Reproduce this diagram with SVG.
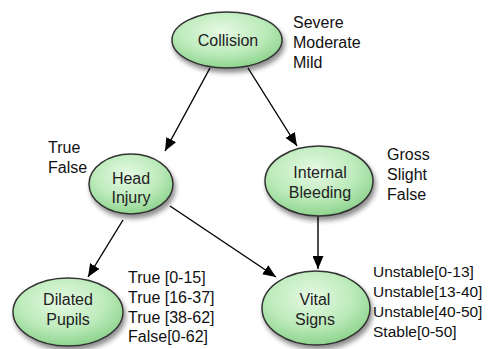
<svg xmlns="http://www.w3.org/2000/svg" width="491" height="349" viewBox="0 0 491 349">
<defs>
<radialGradient id="g" cx="0.45" cy="0.35" r="0.65">
<stop offset="0" stop-color="#e6f9e4"/>
<stop offset="0.6" stop-color="#bdebbb"/>
<stop offset="1" stop-color="#8fd48f"/>
</radialGradient>
<filter id="sh" x="-20%" y="-20%" width="150%" height="160%">
<feGaussianBlur in="SourceAlpha" stdDeviation="2.5"/>
<feOffset dx="2" dy="4" result="b"/>
<feComponentTransfer><feFuncA type="linear" slope="0.45"/></feComponentTransfer>
<feMerge><feMergeNode/><feMergeNode in="SourceGraphic"/></feMerge>
</filter>
<marker id="ah" viewBox="0 0 13 11" refX="13" refY="5.5" markerWidth="13" markerHeight="11" markerUnits="userSpaceOnUse" orient="auto">
<path d="M0,0 L13,5.5 L0,11 z" fill="#000"/>
</marker>
</defs>
<style>
.n ellipse{fill:url(#g);stroke:#333;stroke-width:1.5;filter:url(#sh)}
.n text{font-family:"Liberation Sans",Arial,sans-serif;font-size:16px;fill:#222;text-anchor:middle}
.s{font-family:"Liberation Sans",Arial,sans-serif;font-size:16px;fill:#111}
.v{font-size:15.5px}
.c line{stroke:#000;stroke-width:1.4;marker-end:url(#ah)}
</style>
<g class="c" id="connectors">
<line x1="210" y1="68" x2="165" y2="151"/>
<line x1="248" y1="68" x2="297" y2="146"/>
<line x1="123" y1="220" x2="88" y2="277"/>
<line x1="170" y1="206" x2="276" y2="277"/>
<line x1="318" y1="216" x2="318" y2="269"/>
</g>
<g class="n" id="collision">
<ellipse cx="227" cy="40" rx="55" ry="28"/>
<text x="228" y="46">Collision</text>
</g>
<g class="n" id="head-injury">
<ellipse cx="131" cy="184" rx="42" ry="30"/>
<text x="131" y="184">Head</text>
<text x="131" y="203">Injury</text>
</g>
<g class="n" id="internal-bleeding">
<ellipse cx="319" cy="181" rx="54" ry="35"/>
<text x="320" y="178">Internal</text>
<text x="320" y="198">Bleeding</text>
</g>
<g class="n" id="dilated-pupils">
<ellipse cx="68" cy="312" rx="55" ry="34"/>
<text x="68" y="305">Dilated</text>
<text x="68" y="325">Pupils</text>
</g>
<g class="n" id="vital-signs">
<ellipse cx="316" cy="308" rx="54" ry="37"/>
<text x="315" y="305">Vital</text>
<text x="315" y="325">Signs</text>
</g>
<g id="labels">
<text class="s" x="293" y="28">Severe</text>
<text class="s" x="293" y="48">Moderate</text>
<text class="s" x="293" y="68">Mild</text>
<text class="s" x="48" y="153">True</text>
<text class="s" x="48" y="173">False</text>
<text class="s" x="387" y="160">Gross</text>
<text class="s" x="387" y="180">Slight</text>
<text class="s" x="387" y="200">False</text>
<text class="s" x="128" y="283">True [0-15]</text>
<text class="s" x="128" y="303">True [16-37]</text>
<text class="s" x="128" y="323">True [38-62]</text>
<text class="s" x="128" y="342">False[0-62]</text>
<text class="s v" x="373" y="277">Unstable[0-13]</text>
<text class="s v" x="373" y="297">Unstable[13-40]</text>
<text class="s v" x="373" y="317">Unstable[40-50]</text>
<text class="s v" x="373" y="337">Stable[0-50]</text>
</g>
</svg>
